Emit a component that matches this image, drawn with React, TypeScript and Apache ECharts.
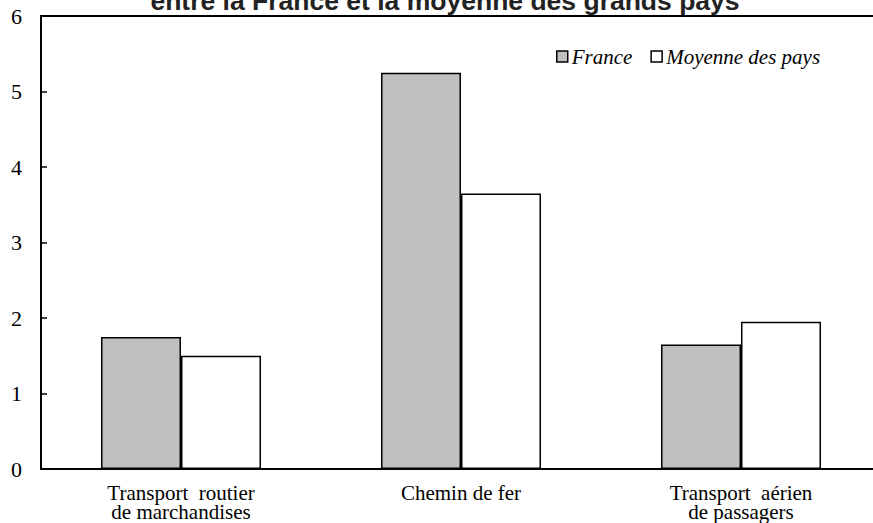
import React, { useEffect, useRef } from "react";
import * as echarts from "echarts";

const categories = ["Transport  routier\nde marchandises", "Chemin de fer", "Transport  aérien\nde passagers"];
const franceValues = [1.75, 5.25, 1.65];
const moyenneValues = [1.5, 3.65, 1.95];
const seriesNames = ["France", "Moyenne des pays"];
const titleText = "entre la France et la moyenne des grands pays";

export default function App() {
  const ref = useRef<HTMLDivElement>(null);
  useEffect(() => {
    if (!ref.current) return;
    const chart = echarts.init(ref.current, null, { renderer: "svg" });
    const serif = "Liberation Serif";
    chart.setOption({
      animation: false,
      backgroundColor: "#ffffff",
      graphic: [
        {
          type: "text",
          x: 445,
          y: 1,
          style: {
            text: titleText,
            fontFamily: "Liberation Sans",
            fontWeight: "bold",
            fontSize: 26.5,
            fill: "#222222",
            textAlign: "center",
            textVerticalAlign: "middle",
          },
        },
        {
          type: "line",
          shape: { x1: 40, y1: 16, x2: 873, y2: 16 },
          style: { stroke: "#000", lineWidth: 2 },
          z: 10,
        },
      ],
      legend: {
        left: 551,
        top: 41,
        itemWidth: 11,
        itemHeight: 11,
        itemGap: 18,
        icon: "rect",
        textStyle: { fontFamily: serif, fontStyle: "italic", fontSize: 21, color: "#000", padding: [0, 0, 0, -1] },
        data: [
          { name: seriesNames[0], itemStyle: { color: "#c0c0c0", borderColor: "#000", borderWidth: 1.5 } },
          { name: seriesNames[1], itemStyle: { color: "#ffffff", borderColor: "#000", borderWidth: 1.5 } },
        ],
      },
      grid: { left: 41, top: 16, bottom: 54, right: -8, containLabel: false, outerBoundsMode: "none" },
      xAxis: {
        type: "category",
        data: categories,
        axisLine: { lineStyle: { color: "#000", width: 2 } },
        axisTick: { show: false },
        axisLabel: { fontFamily: serif, fontSize: 21, color: "#000", lineHeight: 19, margin: 14 },
      },
      yAxis: {
        type: "value",
        min: 0,
        max: 6,
        interval: 1,
        axisLine: { show: true, lineStyle: { color: "#000", width: 2 } },
        axisTick: { show: true, inside: true, length: 6, lineStyle: { color: "#000", width: 1.5 } },
        splitLine: { show: false },
        axisLabel: { fontFamily: serif, fontSize: 22, color: "#000", margin: 19 },
      },
      series: [
        {
          name: seriesNames[0],
          type: "bar",
          data: franceValues,
          barWidth: 80,
          barGap: "0%",
          itemStyle: { color: "#c0c0c0", borderColor: "#000", borderWidth: 1.5 },
        },
        {
          name: seriesNames[1],
          type: "bar",
          data: moyenneValues,
          barWidth: 80,
          barGap: "0%",
          itemStyle: { color: "#ffffff", borderColor: "#000", borderWidth: 1.5 },
        },
      ],
    });
    return () => chart.dispose();
  }, []);
  return <div ref={ref} style={{ width: 873, height: 523, position: "absolute", left: 0, top: 0 }} />;
}
